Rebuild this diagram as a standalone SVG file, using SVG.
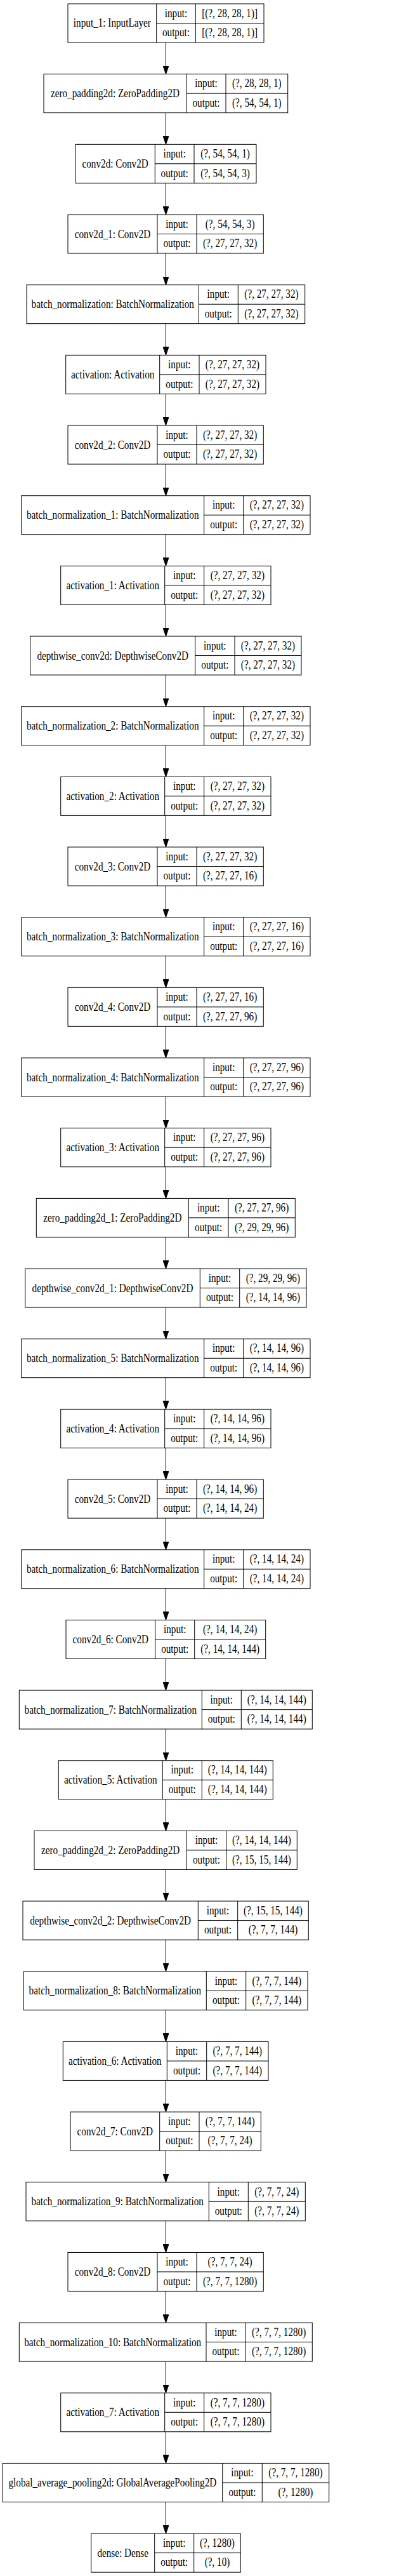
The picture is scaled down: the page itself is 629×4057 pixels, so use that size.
<svg xmlns="http://www.w3.org/2000/svg" width="629" height="4057" viewBox="0 0 629 4057">
<style>
.node rect{fill:#fff;stroke:#000;stroke-width:1}
.node path{fill:none;stroke:#000;stroke-width:1}
text{font-family:"Liberation Serif","Times New Roman",serif;font-size:18px;text-anchor:middle;fill:#000;transform-box:fill-box;transform-origin:50% 50%;transform:scaleX(0.845)}
.edges path{fill:none;stroke:#000;stroke-width:1}
</style>
<defs>
<marker id="ah" viewBox="0 0 13 9" refX="13" refY="4.5" markerWidth="13" markerHeight="9" markerUnits="userSpaceOnUse" orient="auto"><path d="M0,0 L13,4.5 L0,9 z" fill="#000" stroke="#000" stroke-width="1"/></marker>
</defs>
<rect width="629" height="4057" fill="#fff"/>
<g class="edges">
<path marker-end="url(#ah)" d="M261.5,67 V116.67"/>
<path marker-end="url(#ah)" d="M261.5,177.67 V227.34"/>
<path marker-end="url(#ah)" d="M261.5,288.34 V338.01"/>
<path marker-end="url(#ah)" d="M261.5,399.01 V448.68"/>
<path marker-end="url(#ah)" d="M261.5,509.68 V559.35"/>
<path marker-end="url(#ah)" d="M261.5,620.35 V670.02"/>
<path marker-end="url(#ah)" d="M261.5,731.02 V780.69"/>
<path marker-end="url(#ah)" d="M261.5,841.69 V891.36"/>
<path marker-end="url(#ah)" d="M261.5,952.36 V1002.03"/>
<path marker-end="url(#ah)" d="M261.5,1063.03 V1112.7"/>
<path marker-end="url(#ah)" d="M261.5,1173.7 V1223.37"/>
<path marker-end="url(#ah)" d="M261.5,1284.37 V1334.04"/>
<path marker-end="url(#ah)" d="M261.5,1395.04 V1444.71"/>
<path marker-end="url(#ah)" d="M261.5,1505.71 V1555.38"/>
<path marker-end="url(#ah)" d="M261.5,1616.38 V1666.05"/>
<path marker-end="url(#ah)" d="M261.5,1727.05 V1776.72"/>
<path marker-end="url(#ah)" d="M261.5,1837.72 V1887.39"/>
<path marker-end="url(#ah)" d="M261.5,1948.39 V1998.06"/>
<path marker-end="url(#ah)" d="M261.5,2059.06 V2108.73"/>
<path marker-end="url(#ah)" d="M261.5,2169.73 V2219.4"/>
<path marker-end="url(#ah)" d="M261.5,2280.4 V2330.07"/>
<path marker-end="url(#ah)" d="M261.5,2391.07 V2440.74"/>
<path marker-end="url(#ah)" d="M261.5,2501.74 V2551.41"/>
<path marker-end="url(#ah)" d="M261.5,2612.41 V2662.08"/>
<path marker-end="url(#ah)" d="M261.5,2723.08 V2772.75"/>
<path marker-end="url(#ah)" d="M261.5,2833.75 V2883.42"/>
<path marker-end="url(#ah)" d="M261.5,2944.42 V2994.09"/>
<path marker-end="url(#ah)" d="M261.5,3055.09 V3104.76"/>
<path marker-end="url(#ah)" d="M261.5,3165.76 V3215.43"/>
<path marker-end="url(#ah)" d="M261.5,3276.43 V3326.1"/>
<path marker-end="url(#ah)" d="M261.5,3387.1 V3436.77"/>
<path marker-end="url(#ah)" d="M261.5,3497.77 V3547.44"/>
<path marker-end="url(#ah)" d="M261.5,3608.44 V3658.11"/>
<path marker-end="url(#ah)" d="M261.5,3719.11 V3768.78"/>
<path marker-end="url(#ah)" d="M261.5,3829.78 V3879.45"/>
<path marker-end="url(#ah)" d="M261.5,3940.45 V3990.12"/>
</g>

<g id="input_1" class="node" transform="translate(0,6)">
<rect x="107" y="0" width="309" height="61"/>
<path d="M246.7,0V61M308.3,0V61M246.7,30.5H416"/>
<text x="176.85" y="36.5">input_1: InputLayer</text>
<text x="277.5" y="20.75">input:</text><text x="277.5" y="51.25">output:</text>
<text x="362.15" y="20.75">[(?, 28, 28, 1)]</text><text x="362.15" y="51.25">[(?, 28, 28, 1)]</text>
</g>

<g id="zero_padding2d" class="node" transform="translate(0,116.67)">
<rect x="69" y="0" width="384.7" height="61"/>
<path d="M294,0V61M356,0V61M294,30.5H453.7"/>
<text x="181.5" y="36.5">zero_padding2d: ZeroPadding2D</text>
<text x="325" y="20.75">input:</text><text x="325" y="51.25">output:</text>
<text x="404.85" y="20.75">(?, 28, 28, 1)</text><text x="404.85" y="51.25">(?, 54, 54, 1)</text>
</g>

<g id="conv2d" class="node" transform="translate(0,227.34)">
<rect x="119" y="0" width="285" height="61"/>
<path d="M244.3,0V61M306,0V61M244.3,30.5H404"/>
<text x="181.65" y="36.5">conv2d: Conv2D</text>
<text x="275.15" y="20.75">input:</text><text x="275.15" y="51.25">output:</text>
<text x="355" y="20.75">(?, 54, 54, 1)</text><text x="355" y="51.25">(?, 54, 54, 3)</text>
</g>

<g id="conv2d_1" class="node" transform="translate(0,338.01)">
<rect x="107" y="0" width="308.3" height="61"/>
<path d="M248,0V61M310,0V61M248,30.5H415.3"/>
<text x="177.5" y="36.5">conv2d_1: Conv2D</text>
<text x="279" y="20.75">input:</text><text x="279" y="51.25">output:</text>
<text x="362.65" y="20.75">(?, 54, 54, 3)</text><text x="362.65" y="51.25">(?, 27, 27, 32)</text>
</g>

<g id="batch_normalization" class="node" transform="translate(0,448.68)">
<rect x="42" y="0" width="438.7" height="61"/>
<path d="M313.3,0V61M375.3,0V61M313.3,30.5H480.7"/>
<text x="177.65" y="36.5">batch_normalization: BatchNormalization</text>
<text x="344.3" y="20.75">input:</text><text x="344.3" y="51.25">output:</text>
<text x="428" y="20.75">(?, 27, 27, 32)</text><text x="428" y="51.25">(?, 27, 27, 32)</text>
</g>

<g id="activation" class="node" transform="translate(0,559.35)">
<rect x="103.7" y="0" width="315.3" height="61"/>
<path d="M251.7,0V61M314,0V61M251.7,30.5H419"/>
<text x="177.7" y="36.5">activation: Activation</text>
<text x="282.85" y="20.75">input:</text><text x="282.85" y="51.25">output:</text>
<text x="366.5" y="20.75">(?, 27, 27, 32)</text><text x="366.5" y="51.25">(?, 27, 27, 32)</text>
</g>

<g id="conv2d_2" class="node" transform="translate(0,670.02)">
<rect x="107" y="0" width="308.3" height="61"/>
<path d="M248,0V61M310,0V61M248,30.5H415.3"/>
<text x="177.5" y="36.5">conv2d_2: Conv2D</text>
<text x="279" y="20.75">input:</text><text x="279" y="51.25">output:</text>
<text x="362.65" y="20.75">(?, 27, 27, 32)</text><text x="362.65" y="51.25">(?, 27, 27, 32)</text>
</g>

<g id="batch_normalization_1" class="node" transform="translate(0,780.69)">
<rect x="33.7" y="0" width="455.3" height="61"/>
<path d="M321.7,0V61M383.7,0V61M321.7,30.5H489"/>
<text x="177.7" y="36.5">batch_normalization_1: BatchNormalization</text>
<text x="352.7" y="20.75">input:</text><text x="352.7" y="51.25">output:</text>
<text x="436.35" y="20.75">(?, 27, 27, 32)</text><text x="436.35" y="51.25">(?, 27, 27, 32)</text>
</g>

<g id="activation_1" class="node" transform="translate(0,891.36)">
<rect x="95.7" y="0" width="331.3" height="61"/>
<path d="M259.7,0V61M321.7,0V61M259.7,30.5H427"/>
<text x="177.7" y="36.5">activation_1: Activation</text>
<text x="290.7" y="20.75">input:</text><text x="290.7" y="51.25">output:</text>
<text x="374.35" y="20.75">(?, 27, 27, 32)</text><text x="374.35" y="51.25">(?, 27, 27, 32)</text>
</g>

<g id="depthwise_conv2d" class="node" transform="translate(0,1002.03)">
<rect x="47.7" y="0" width="427.3" height="61"/>
<path d="M307.7,0V61M370,0V61M307.7,30.5H475"/>
<text x="177.7" y="36.5">depthwise_conv2d: DepthwiseConv2D</text>
<text x="338.85" y="20.75">input:</text><text x="338.85" y="51.25">output:</text>
<text x="422.5" y="20.75">(?, 27, 27, 32)</text><text x="422.5" y="51.25">(?, 27, 27, 32)</text>
</g>

<g id="batch_normalization_2" class="node" transform="translate(0,1112.7)">
<rect x="33.7" y="0" width="455.3" height="61"/>
<path d="M321.7,0V61M383.7,0V61M321.7,30.5H489"/>
<text x="177.7" y="36.5">batch_normalization_2: BatchNormalization</text>
<text x="352.7" y="20.75">input:</text><text x="352.7" y="51.25">output:</text>
<text x="436.35" y="20.75">(?, 27, 27, 32)</text><text x="436.35" y="51.25">(?, 27, 27, 32)</text>
</g>

<g id="activation_2" class="node" transform="translate(0,1223.37)">
<rect x="95.7" y="0" width="331.3" height="61"/>
<path d="M259.7,0V61M321.7,0V61M259.7,30.5H427"/>
<text x="177.7" y="36.5">activation_2: Activation</text>
<text x="290.7" y="20.75">input:</text><text x="290.7" y="51.25">output:</text>
<text x="374.35" y="20.75">(?, 27, 27, 32)</text><text x="374.35" y="51.25">(?, 27, 27, 32)</text>
</g>

<g id="conv2d_3" class="node" transform="translate(0,1334.04)">
<rect x="107" y="0" width="308.3" height="61"/>
<path d="M248,0V61M310,0V61M248,30.5H415.3"/>
<text x="177.5" y="36.5">conv2d_3: Conv2D</text>
<text x="279" y="20.75">input:</text><text x="279" y="51.25">output:</text>
<text x="362.65" y="20.75">(?, 27, 27, 32)</text><text x="362.65" y="51.25">(?, 27, 27, 16)</text>
</g>

<g id="batch_normalization_3" class="node" transform="translate(0,1444.71)">
<rect x="33.7" y="0" width="455.3" height="61"/>
<path d="M321.7,0V61M383.7,0V61M321.7,30.5H489"/>
<text x="177.7" y="36.5">batch_normalization_3: BatchNormalization</text>
<text x="352.7" y="20.75">input:</text><text x="352.7" y="51.25">output:</text>
<text x="436.35" y="20.75">(?, 27, 27, 16)</text><text x="436.35" y="51.25">(?, 27, 27, 16)</text>
</g>

<g id="conv2d_4" class="node" transform="translate(0,1555.38)">
<rect x="107" y="0" width="308.3" height="61"/>
<path d="M248,0V61M310,0V61M248,30.5H415.3"/>
<text x="177.5" y="36.5">conv2d_4: Conv2D</text>
<text x="279" y="20.75">input:</text><text x="279" y="51.25">output:</text>
<text x="362.65" y="20.75">(?, 27, 27, 16)</text><text x="362.65" y="51.25">(?, 27, 27, 96)</text>
</g>

<g id="batch_normalization_4" class="node" transform="translate(0,1666.05)">
<rect x="33.7" y="0" width="455.3" height="61"/>
<path d="M321.7,0V61M383.7,0V61M321.7,30.5H489"/>
<text x="177.7" y="36.5">batch_normalization_4: BatchNormalization</text>
<text x="352.7" y="20.75">input:</text><text x="352.7" y="51.25">output:</text>
<text x="436.35" y="20.75">(?, 27, 27, 96)</text><text x="436.35" y="51.25">(?, 27, 27, 96)</text>
</g>

<g id="activation_3" class="node" transform="translate(0,1776.72)">
<rect x="95.7" y="0" width="331.3" height="61"/>
<path d="M259.7,0V61M321.7,0V61M259.7,30.5H427"/>
<text x="177.7" y="36.5">activation_3: Activation</text>
<text x="290.7" y="20.75">input:</text><text x="290.7" y="51.25">output:</text>
<text x="374.35" y="20.75">(?, 27, 27, 96)</text><text x="374.35" y="51.25">(?, 27, 27, 96)</text>
</g>

<g id="zero_padding2d_1" class="node" transform="translate(0,1887.39)">
<rect x="57.3" y="0" width="408" height="61"/>
<path d="M297.3,0V61M360,0V61M297.3,30.5H465.3"/>
<text x="177.3" y="36.5">zero_padding2d_1: ZeroPadding2D</text>
<text x="328.65" y="20.75">input:</text><text x="328.65" y="51.25">output:</text>
<text x="412.65" y="20.75">(?, 27, 27, 96)</text><text x="412.65" y="51.25">(?, 29, 29, 96)</text>
</g>

<g id="depthwise_conv2d_1" class="node" transform="translate(0,1998.06)">
<rect x="39.7" y="0" width="443.3" height="61"/>
<path d="M315.3,0V61M377.7,0V61M315.3,30.5H483"/>
<text x="177.5" y="36.5">depthwise_conv2d_1: DepthwiseConv2D</text>
<text x="346.5" y="20.75">input:</text><text x="346.5" y="51.25">output:</text>
<text x="430.35" y="20.75">(?, 29, 29, 96)</text><text x="430.35" y="51.25">(?, 14, 14, 96)</text>
</g>

<g id="batch_normalization_5" class="node" transform="translate(0,2108.73)">
<rect x="33.7" y="0" width="455.3" height="61"/>
<path d="M321.7,0V61M383.7,0V61M321.7,30.5H489"/>
<text x="177.7" y="36.5">batch_normalization_5: BatchNormalization</text>
<text x="352.7" y="20.75">input:</text><text x="352.7" y="51.25">output:</text>
<text x="436.35" y="20.75">(?, 14, 14, 96)</text><text x="436.35" y="51.25">(?, 14, 14, 96)</text>
</g>

<g id="activation_4" class="node" transform="translate(0,2219.4)">
<rect x="95.7" y="0" width="331.3" height="61"/>
<path d="M259.7,0V61M321.7,0V61M259.7,30.5H427"/>
<text x="177.7" y="36.5">activation_4: Activation</text>
<text x="290.7" y="20.75">input:</text><text x="290.7" y="51.25">output:</text>
<text x="374.35" y="20.75">(?, 14, 14, 96)</text><text x="374.35" y="51.25">(?, 14, 14, 96)</text>
</g>

<g id="conv2d_5" class="node" transform="translate(0,2330.07)">
<rect x="107" y="0" width="308.3" height="61"/>
<path d="M248,0V61M310,0V61M248,30.5H415.3"/>
<text x="177.5" y="36.5">conv2d_5: Conv2D</text>
<text x="279" y="20.75">input:</text><text x="279" y="51.25">output:</text>
<text x="362.65" y="20.75">(?, 14, 14, 96)</text><text x="362.65" y="51.25">(?, 14, 14, 24)</text>
</g>

<g id="batch_normalization_6" class="node" transform="translate(0,2440.74)">
<rect x="33.7" y="0" width="455.3" height="61"/>
<path d="M321.7,0V61M383.7,0V61M321.7,30.5H489"/>
<text x="177.7" y="36.5">batch_normalization_6: BatchNormalization</text>
<text x="352.7" y="20.75">input:</text><text x="352.7" y="51.25">output:</text>
<text x="436.35" y="20.75">(?, 14, 14, 24)</text><text x="436.35" y="51.25">(?, 14, 14, 24)</text>
</g>

<g id="conv2d_6" class="node" transform="translate(0,2551.41)">
<rect x="104" y="0" width="314.7" height="61"/>
<path d="M244.7,0V61M306.7,0V61M244.7,30.5H418.7"/>
<text x="174.35" y="36.5">conv2d_6: Conv2D</text>
<text x="275.7" y="20.75">input:</text><text x="275.7" y="51.25">output:</text>
<text x="362.7" y="20.75">(?, 14, 14, 24)</text><text x="362.7" y="51.25">(?, 14, 14, 144)</text>
</g>

<g id="batch_normalization_7" class="node" transform="translate(0,2662.08)">
<rect x="30.3" y="0" width="462" height="61"/>
<path d="M318.3,0V61M380.3,0V61M318.3,30.5H492.3"/>
<text x="174.3" y="36.5">batch_normalization_7: BatchNormalization</text>
<text x="349.3" y="20.75">input:</text><text x="349.3" y="51.25">output:</text>
<text x="436.3" y="20.75">(?, 14, 14, 144)</text><text x="436.3" y="51.25">(?, 14, 14, 144)</text>
</g>

<g id="activation_5" class="node" transform="translate(0,2772.75)">
<rect x="92.3" y="0" width="338" height="61"/>
<path d="M256.3,0V61M318.3,0V61M256.3,30.5H430.3"/>
<text x="174.3" y="36.5">activation_5: Activation</text>
<text x="287.3" y="20.75">input:</text><text x="287.3" y="51.25">output:</text>
<text x="374.3" y="20.75">(?, 14, 14, 144)</text><text x="374.3" y="51.25">(?, 14, 14, 144)</text>
</g>

<g id="zero_padding2d_2" class="node" transform="translate(0,2883.42)">
<rect x="54" y="0" width="414.3" height="61"/>
<path d="M294.3,0V61M356.7,0V61M294.3,30.5H468.3"/>
<text x="174.15" y="36.5">zero_padding2d_2: ZeroPadding2D</text>
<text x="325.5" y="20.75">input:</text><text x="325.5" y="51.25">output:</text>
<text x="412.5" y="20.75">(?, 14, 14, 144)</text><text x="412.5" y="51.25">(?, 15, 15, 144)</text>
</g>

<g id="depthwise_conv2d_2" class="node" transform="translate(0,2994.09)">
<rect x="36" y="0" width="450.3" height="61"/>
<path d="M312.3,0V61M374.7,0V61M312.3,30.5H486.3"/>
<text x="174.15" y="36.5">depthwise_conv2d_2: DepthwiseConv2D</text>
<text x="343.5" y="20.75">input:</text><text x="343.5" y="51.25">output:</text>
<text x="430.5" y="20.75">(?, 15, 15, 144)</text><text x="430.5" y="51.25">(?, 7, 7, 144)</text>
</g>

<g id="batch_normalization_8" class="node" transform="translate(0,3104.76)">
<rect x="37.3" y="0" width="447.7" height="61"/>
<path d="M325.3,0V61M387.7,0V61M325.3,30.5H485"/>
<text x="181.3" y="36.5">batch_normalization_8: BatchNormalization</text>
<text x="356.5" y="20.75">input:</text><text x="356.5" y="51.25">output:</text>
<text x="436.35" y="20.75">(?, 7, 7, 144)</text><text x="436.35" y="51.25">(?, 7, 7, 144)</text>
</g>

<g id="activation_6" class="node" transform="translate(0,3215.43)">
<rect x="99.3" y="0" width="323.7" height="61"/>
<path d="M263.3,0V61M325.7,0V61M263.3,30.5H423"/>
<text x="181.3" y="36.5">activation_6: Activation</text>
<text x="294.5" y="20.75">input:</text><text x="294.5" y="51.25">output:</text>
<text x="374.35" y="20.75">(?, 7, 7, 144)</text><text x="374.35" y="51.25">(?, 7, 7, 144)</text>
</g>

<g id="conv2d_7" class="node" transform="translate(0,3326.1)">
<rect x="111" y="0" width="300.3" height="61"/>
<path d="M251.7,0V61M314,0V61M251.7,30.5H411.3"/>
<text x="181.35" y="36.5">conv2d_7: Conv2D</text>
<text x="282.85" y="20.75">input:</text><text x="282.85" y="51.25">output:</text>
<text x="362.65" y="20.75">(?, 7, 7, 144)</text><text x="362.65" y="51.25">(?, 7, 7, 24)</text>
</g>

<g id="batch_normalization_9" class="node" transform="translate(0,3436.77)">
<rect x="41" y="0" width="440.3" height="61"/>
<path d="M329.3,0V61M391.3,0V61M329.3,30.5H481.3"/>
<text x="185.15" y="36.5">batch_normalization_9: BatchNormalization</text>
<text x="360.3" y="20.75">input:</text><text x="360.3" y="51.25">output:</text>
<text x="436.3" y="20.75">(?, 7, 7, 24)</text><text x="436.3" y="51.25">(?, 7, 7, 24)</text>
</g>

<g id="conv2d_8" class="node" transform="translate(0,3547.44)">
<rect x="107" y="0" width="308.3" height="61"/>
<path d="M248,0V61M310,0V61M248,30.5H415.3"/>
<text x="177.5" y="36.5">conv2d_8: Conv2D</text>
<text x="279" y="20.75">input:</text><text x="279" y="51.25">output:</text>
<text x="362.65" y="20.75">(?, 7, 7, 24)</text><text x="362.65" y="51.25">(?, 7, 7, 1280)</text>
</g>

<g id="batch_normalization_10" class="node" transform="translate(0,3658.11)">
<rect x="30.3" y="0" width="462" height="61"/>
<path d="M325,0V61M387,0V61M325,30.5H492.3"/>
<text x="177.65" y="36.5">batch_normalization_10: BatchNormalization</text>
<text x="356" y="20.75">input:</text><text x="356" y="51.25">output:</text>
<text x="439.65" y="20.75">(?, 7, 7, 1280)</text><text x="439.65" y="51.25">(?, 7, 7, 1280)</text>
</g>

<g id="activation_7" class="node" transform="translate(0,3768.78)">
<rect x="95.7" y="0" width="331.3" height="61"/>
<path d="M259.7,0V61M321.7,0V61M259.7,30.5H427"/>
<text x="177.7" y="36.5">activation_7: Activation</text>
<text x="290.7" y="20.75">input:</text><text x="290.7" y="51.25">output:</text>
<text x="374.35" y="20.75">(?, 7, 7, 1280)</text><text x="374.35" y="51.25">(?, 7, 7, 1280)</text>
</g>

<g id="global_average_pooling2d" class="node" transform="translate(0,3879.45)">
<rect x="4" y="0" width="514.7" height="61"/>
<path d="M350.7,0V61M413.3,0V61M350.7,30.5H518.7"/>
<text x="177.35" y="36.5">global_average_pooling2d: GlobalAveragePooling2D</text>
<text x="382" y="20.75">input:</text><text x="382" y="51.25">output:</text>
<text x="466" y="20.75">(?, 7, 7, 1280)</text><text x="466" y="51.25">(?, 1280)</text>
</g>

<g id="dense" class="node" transform="translate(0,3990.12)">
<rect x="143.7" y="0" width="235.6" height="61"/>
<path d="M243.7,0V61M305.7,0V61M243.7,30.5H379.3"/>
<text x="193.7" y="36.5">dense: Dense</text>
<text x="274.7" y="20.75">input:</text><text x="274.7" y="51.25">output:</text>
<text x="342.5" y="20.75">(?, 1280)</text><text x="342.5" y="51.25">(?, 10)</text>
</g>
</svg>
